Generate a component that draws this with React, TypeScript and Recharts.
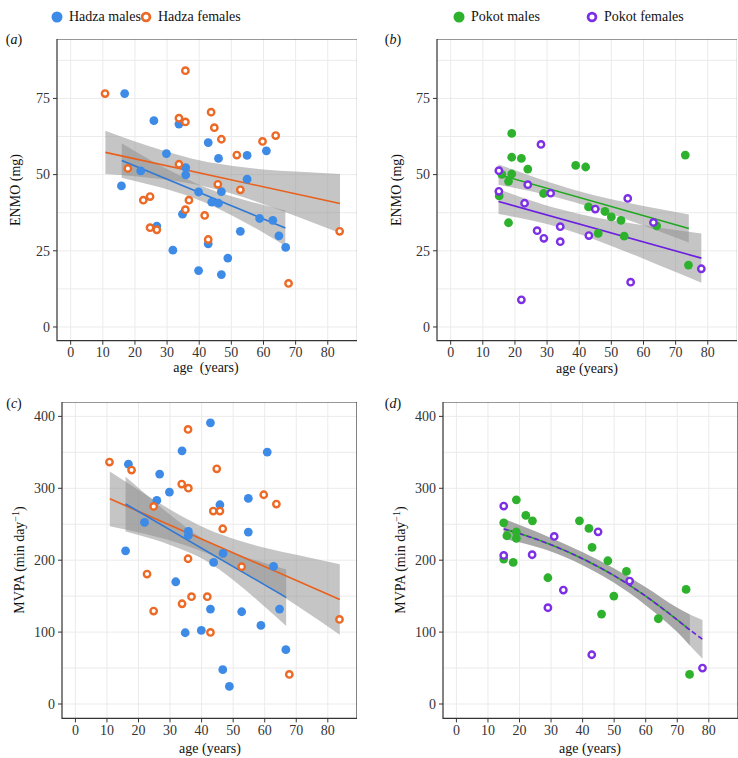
import React from 'react';
import { ComposedChart, Scatter, Line, Area, XAxis, YAxis, CartesianGrid, ReferenceArea } from 'recharts';

type Pt = [number, number];
type Band = [number, number, number];

// ---- panel (a): Hadza ENMO (age, mg)
const hadzaMalesEnmo: Pt[] = [
  [16.8, 76.6], [25.9, 67.7], [33.7, 66.6], [42.8, 60.5], [46.0, 55.3], [54.9, 56.3], [60.9, 57.8],
  [29.8, 56.9], [21.8, 51.2], [15.8, 46.3], [35.8, 52.3], [35.8, 49.9], [54.9, 48.5], [39.8, 44.3],
  [46.9, 44.4], [43.9, 41.0], [46.0, 40.6], [34.8, 37.0], [58.8, 35.6], [62.9, 35.0], [64.8, 29.9],
  [66.9, 26.1], [26.8, 33.1], [52.8, 31.4], [42.8, 27.3], [31.8, 25.2], [48.9, 22.6], [39.8, 18.5],
  [46.9, 17.2],
];
const hadzaFemalesEnmo: Pt[] = [
  [10.7, 76.6], [35.7, 84.1], [17.8, 52.0], [43.7, 70.5], [33.7, 68.5], [35.7, 67.3], [44.7, 65.4],
  [46.9, 61.6], [59.7, 60.9], [63.8, 62.8], [51.7, 56.4], [33.7, 53.4], [45.8, 46.8], [52.8, 45.0],
  [22.6, 41.6], [24.7, 42.8], [36.8, 41.6], [35.7, 38.5], [41.7, 36.6], [24.7, 32.6], [26.8, 31.9],
  [42.8, 28.7], [83.7, 31.4], [67.8, 14.3],
];
const hadzaMalesEnmoFit: Pt[] = [[15.9, 54.6], [66.8, 32.5]];
const hadzaMalesEnmoBand: Band[] = [
  [15.9, 49.0, 60.2], [20, 47.9, 57.7], [30, 45.2, 51.8], [41, 41.2, 46.2], [50, 36.7, 42.9], [60, 30.9, 40.0], [66.8, 26.6, 38.2],
];
const hadzaFemalesEnmoFit: Pt[] = [[10.8, 57.3], [83.8, 40.5]];
const hadzaFemalesEnmoBand: Band[] = [
  [10.8, 50.2, 64.4], [20, 49.5, 60.9], [30, 48.3, 57.5], [40, 46.5, 54.7], [50, 43.8, 52.9], [60, 40.3, 51.7], [70, 36.4, 51.0], [83.8, 30.8, 50.2],
];

// ---- panel (b): Pokot ENMO
const pokotMalesEnmo: Pt[] = [
  [19.0, 63.5], [19.0, 55.7], [22.0, 55.3], [24.0, 51.8], [38.9, 53.0], [42.0, 52.5], [73.0, 56.4],
  [15.9, 50.1], [19.0, 50.2], [18.0, 47.8], [15.1, 43.0], [28.9, 43.8], [18.0, 34.2], [42.9, 39.4],
  [48.0, 37.9], [50.0, 36.1], [53.0, 35.0], [45.9, 30.7], [54.0, 29.8], [64.1, 33.2], [74.0, 20.3],
];
const pokotFemalesEnmo: Pt[] = [
  [15.0, 51.3], [15.0, 44.5], [28.1, 59.9], [24.0, 46.7], [31.1, 43.9], [23.0, 40.6], [45.0, 38.7],
  [55.1, 42.2], [63.1, 34.3], [26.9, 31.6], [29.0, 29.1], [34.1, 32.9], [34.1, 28.0], [43.0, 30.0],
  [56.0, 14.7], [22.0, 8.9], [78.0, 19.1],
];
const pokotMalesEnmoFit: Pt[] = [[14.9, 50.0], [74.1, 32.3]];
const pokotMalesEnmoBand: Band[] = [
  [14.9, 46.7, 53.3], [20, 45.6, 51.4], [30, 43.3, 47.7], [38, 41.1, 45.1], [50, 37.1, 41.9], [60, 33.3, 39.7], [74.1, 27.7, 36.9],
];
const pokotFemalesEnmoFit: Pt[] = [[14.9, 41.2], [78.0, 22.6]];
const pokotFemalesEnmoBand: Band[] = [
  [14.9, 37.1, 45.3], [20, 36.1, 43.3], [32, 33.2, 39.2], [40, 30.5, 37.1], [50, 26.6, 35.0], [60, 22.4, 33.4], [70, 18.0, 31.8], [78, 14.5, 30.7],
];

// ---- panel (c): Hadza MVPA (min/day)
const hadzaMalesMvpa: Pt[] = [
  [42.8, 391.1], [16.8, 333.6], [33.8, 352.1], [60.8, 350.3], [26.7, 319.7], [29.8, 294.7], [25.8, 283.1],
  [45.8, 277.1], [54.8, 285.9], [21.9, 252.5], [35.8, 240.0], [35.8, 234.4], [54.8, 239.1], [15.9, 213.1],
  [46.8, 209.4], [43.8, 196.9], [62.8, 191.3], [31.8, 170.0], [42.8, 132.0], [52.7, 128.3], [64.7, 132.0],
  [58.8, 109.3], [34.8, 99.1], [39.9, 102.4], [66.7, 75.5], [46.7, 47.7], [48.8, 24.5],
];
const hadzaFemalesMvpa: Pt[] = [
  [10.8, 336.4], [17.8, 325.3], [35.7, 381.8], [44.8, 327.1], [33.7, 305.8], [35.8, 300.2], [24.8, 274.7],
  [59.7, 291.0], [63.7, 278.0], [43.7, 268.3], [45.8, 268.3], [46.7, 243.7], [35.7, 202.0], [52.7, 190.9],
  [22.7, 180.7], [36.8, 149.2], [41.8, 149.2], [33.8, 139.4], [24.8, 129.2], [42.8, 99.6], [67.8, 41.2],
  [83.7, 117.7],
];
const hadzaMalesMvpaFit: Pt[] = [[15.9, 278.2], [66.8, 148.3]];
const hadzaMalesMvpaBand: Band[] = [
  [15.9, 239.9, 315.9], [20, 234.9, 300.5], [30, 221.3, 263.1], [41, 200.1, 228.1], [50, 172.3, 210.1], [60, 135.4, 196.0], [66.8, 108.5, 187.1],
];
const hadzaFemalesMvpaFit: Pt[] = [[10.9, 285.4], [83.8, 145.4]];
const hadzaFemalesMvpaBand: Band[] = [
  [10.9, 247.3, 323.3], [20, 238.5, 297.5], [30, 227.4, 270.4], [42, 208.9, 242.9], [50, 191.5, 229.7], [60, 165.4, 217.4], [70, 137.2, 207.4], [83.8, 96.4, 194.4],
];

// ---- panel (d): Pokot MVPA (smooth curves)
const pokotMalesMvpa: Pt[] = [
  [19.0, 284.0], [15.0, 252.0], [22.0, 262.2], [24.1, 254.8], [39.0, 254.8], [42.0, 244.2], [16.0, 234.0],
  [19.0, 239.5], [19.0, 230.3], [43.0, 217.7], [15.0, 201.5], [18.0, 196.9], [48.0, 199.2], [53.9, 184.4],
  [29.0, 175.6], [49.9, 150.1], [46.0, 125.1], [64.0, 118.6], [72.8, 159.4], [73.9, 41.2],
];
const pokotFemalesMvpa: Pt[] = [
  [15.0, 275.2], [31.0, 233.0], [44.9, 239.5], [15.0, 206.6], [24.0, 207.6], [54.9, 170.9], [33.9, 158.4],
  [29.0, 133.9], [42.9, 68.5], [78.0, 50.0],
];
const pokotMalesMvpaFit: Pt[] = [[15, 243.5], [20, 237], [30, 221.5], [40, 202], [50, 178.5], [60, 150], [70, 117], [74, 103]];
const pokotMalesMvpaBand: Band[] = [
  [15, 229.5, 257.5], [20, 225, 249], [30, 212, 231], [40, 193, 211], [50, 168.5, 188.5], [60, 137.5, 162.5], [70, 100, 134], [74, 81.5, 124.5],
];
const pokotFemalesMvpaFit: Pt[] = [[15, 243.5], [20, 237], [30, 221.5], [40, 202], [50, 178.5], [60, 150], [70, 117], [74, 103], [78, 90]];
const pokotFemalesMvpaBand: Band[] = [
  [15, 229.5, 257.5], [20, 225, 249], [30, 212, 231], [40, 193, 211], [50, 168.5, 188.5], [60, 137.5, 162.5], [70, 100, 134], [74, 81.5, 124.5], [78, 63, 117],
];

const ageTicks = [0, 10, 20, 30, 40, 50, 60, 70, 80];
const enmoTicks = [0, 25, 50, 75];
const enmoGrid = [0, 12.5, 25, 37.5, 50, 62.5, 75, 87.5];
const mvpaTicks = [0, 100, 200, 300, 400];
const mvpaGrid = [0, 50, 100, 150, 200, 250, 300, 350, 400];

const C = {
  hadzaM: '#3D8BE6', hadzaMLine: '#2F78D4',
  hadzaF: '#EC6A26', hadzaFLine: '#E8601C',
  pokotM: '#2EB22E', pokotMLine: '#1FA81F',
  pokotF: '#7C2FE5', pokotFLine: '#6A1FE0',
};
const FONT = "'Liberation Serif', 'Times New Roman', serif";

interface Series { pts: Pt[]; color: string; ring: boolean }
interface Fit { line: Pt[]; band: Band[]; color: string; dashed?: boolean; curve?: boolean }

const toXY = (pts: Pt[]) => pts.map(([x, y]) => ({ x, y }));
const toBand = (b: Band[]) => b.map(([x, lo, hi]) => ({ x, band: [lo, hi] }));

const dotShape = (color: string, ring: boolean) => (p: any) =>
  ring
    ? <circle cx={p.cx} cy={p.cy} r={3.2} fill="#fff" stroke={color} strokeWidth={2.4} />
    : <circle cx={p.cx} cy={p.cy} r={4.4} fill={color} />;

// serif tick labels drawn by hand so the font sticks
const XTick = (p: any) => (
  <text x={p.x} y={p.y} dy="0.75em" textAnchor="middle" fontSize={14} fill="#333" style={{ fontFamily: FONT }}>{p.payload.value}</text>
);
const YTick = (p: any) => (
  <text x={p.x} y={p.y} dy="0.34em" textAnchor="end" fontSize={14} fill="#333" style={{ fontFamily: FONT }}>{p.payload.value}</text>
);

interface PanelProps {
  left: number; top: number; width: number; height: number; yw: number;
  yDomain: [number, number]; yTicks: number[]; yGrid: number[];
  series: Series[]; fits: Fit[];
}

const xDomain: [number, number] = [-4.25, 89.25];

const Panel = ({ left, top, width, height, yw, yDomain, yTicks, yGrid, series, fits }: PanelProps) => (
  <div style={{ position: 'absolute', left: left - yw, top }}>
    <ComposedChart width={width + yw} height={height + 26} margin={{ top: 0, right: 0, bottom: 0, left: 0 }}>
      <CartesianGrid stroke="#EBEBEB" strokeWidth={1} horizontalValues={yGrid} verticalValues={ageTicks} />
      <XAxis dataKey="x" type="number" domain={xDomain} ticks={ageTicks} allowDataOverflow
        height={26} tickSize={4} tickMargin={2} axisLine={false} tickLine={{ stroke: '#333' }} tick={XTick} />
      <YAxis type="number" domain={yDomain} ticks={yTicks} allowDataOverflow
        width={yw} tickSize={4} tickMargin={3} axisLine={false} tickLine={{ stroke: '#333' }} tick={YTick} />
      {fits.map((f, i) => (
        <Area key={'b' + i} data={toBand(f.band)} dataKey="band" type="monotone" stroke="none"
          fill="#8C8C8C" fillOpacity={0.5} isAnimationActive={false} />
      ))}
      {fits.map((f, i) => (
        <Line key={'l' + i} data={toXY(f.line)} dataKey="y" type={f.curve ? 'monotone' : 'linear'} stroke={f.color}
          strokeWidth={1.6} strokeDasharray={f.dashed ? '5 3' : undefined} dot={false} isAnimationActive={false} />
      ))}
      {series.map((s, i) => (
        <Scatter key={'s' + i} data={toXY(s.pts)} dataKey="y" shape={dotShape(s.color, s.ring)} isAnimationActive={false} />
      ))}
      <ReferenceArea x1={xDomain[0]} x2={xDomain[1]} y1={yDomain[0]} y2={yDomain[1]} fill="none" stroke="#333" strokeWidth={1.2} ifOverflow="visible" />
    </ComposedChart>
  </div>
);

const txt: React.CSSProperties = { position: 'absolute', fontSize: 14, color: '#111', whiteSpace: 'nowrap', lineHeight: '16px' };

const LegendItem = ({ x, color, ring, label }: { x: number; color: string; ring: boolean; label: string }) => (
  <div style={{ position: 'absolute', left: x - 6, top: 9, display: 'flex', alignItems: 'center' }}>
    <svg width={12} height={12}>
      {ring
        ? <circle cx={6} cy={6} r={3.9} fill="#fff" stroke={color} strokeWidth={2.8} />
        : <circle cx={6} cy={6} r={5.5} fill={color} />}
    </svg>
    <span style={{ marginLeft: 6, fontSize: 14, color: '#111' }}>{label}</span>
  </div>
);

const YTitle = ({ x, y, children }: { x: number; y: number; children: React.ReactNode }) => (
  <div style={{ ...txt, left: x, top: y, transform: 'translate(-50%, -50%) rotate(-90deg)' }}>{children}</div>
);
const XTitle = ({ x, y, children }: { x: number; y: number; children: React.ReactNode }) => (
  <div style={{ ...txt, left: x, top: y, transform: 'translate(-50%, -50%)' }}>{children}</div>
);
const Tag = ({ x, y, l }: { x: number; y: number; l: string }) => (
  <div style={{ ...txt, left: x, top: y, transform: 'translate(-50%, -50%)' }}>(<i>{l}</i>)</div>
);

export default function App() {
  return (
    <div style={{ position: 'absolute', left: 0, top: 0, width: 738, height: 758, background: '#fff', fontFamily: FONT, overflow: 'hidden' }}>
      <LegendItem x={57} color={C.hadzaM} ring={false} label="Hadza males" />
      <LegendItem x={146} color={C.hadzaF} ring label="Hadza females" />
      <LegendItem x={459} color={C.pokotM} ring={false} label="Pokot males" />
      <LegendItem x={592} color={C.pokotF} ring label="Pokot females" />

      <Panel left={56.5} top={39.4} width={300.5} height={301.7} yw={40} yDomain={[-4.5, 94.5]} yTicks={enmoTicks} yGrid={enmoGrid}
        fits={[
          { line: hadzaFemalesEnmoFit, band: hadzaFemalesEnmoBand, color: C.hadzaFLine },
          { line: hadzaMalesEnmoFit, band: hadzaMalesEnmoBand, color: C.hadzaMLine },
        ]}
        series={[
          { pts: hadzaMalesEnmo, color: C.hadzaM, ring: false },
          { pts: hadzaFemalesEnmo, color: C.hadzaF, ring: true },
        ]} />
      <Panel left={436.8} top={39.4} width={300.5} height={301.7} yw={40} yDomain={[-4.5, 94.5]} yTicks={enmoTicks} yGrid={enmoGrid}
        fits={[
          { line: pokotMalesEnmoFit, band: pokotMalesEnmoBand, color: C.pokotMLine },
          { line: pokotFemalesEnmoFit, band: pokotFemalesEnmoBand, color: C.pokotFLine },
        ]}
        series={[
          { pts: pokotMalesEnmo, color: C.pokotM, ring: false },
          { pts: pokotFemalesEnmo, color: C.pokotF, ring: true },
        ]} />
      <Panel left={62} top={402.3} width={295} height={316.4} yw={46} yDomain={[-20, 420]} yTicks={mvpaTicks} yGrid={mvpaGrid}
        fits={[
          { line: hadzaFemalesMvpaFit, band: hadzaFemalesMvpaBand, color: C.hadzaFLine },
          { line: hadzaMalesMvpaFit, band: hadzaMalesMvpaBand, color: C.hadzaMLine },
        ]}
        series={[
          { pts: hadzaMalesMvpa, color: C.hadzaM, ring: false },
          { pts: hadzaFemalesMvpa, color: C.hadzaF, ring: true },
        ]} />
      <Panel left={442.7} top={402.3} width={295} height={316.4} yw={46} yDomain={[-20, 420]} yTicks={mvpaTicks} yGrid={mvpaGrid}
        fits={[
          { line: pokotMalesMvpaFit, band: pokotMalesMvpaBand, color: C.pokotMLine, curve: true },
          { line: pokotFemalesMvpaFit, band: pokotFemalesMvpaBand, color: C.pokotFLine, curve: true, dashed: true },
        ]}
        series={[
          { pts: pokotMalesMvpa, color: C.pokotM, ring: false },
          { pts: pokotFemalesMvpa, color: C.pokotF, ring: true },
        ]} />

      <Tag x={14} y={40} l="a" />
      <Tag x={393} y={40} l="b" />
      <Tag x={14} y={404} l="c" />
      <Tag x={393} y={404} l="d" />

      <YTitle x={16} y={190}>ENMO (mg)</YTitle>
      <YTitle x={397} y={190}>ENMO (mg)</YTitle>
      <YTitle x={18} y={560}>MVPA (min day<sup style={{ fontSize: 10 }}>−1</sup>)</YTitle>
      <YTitle x={399} y={560}>MVPA (min day<sup style={{ fontSize: 10 }}>−1</sup>)</YTitle>

      <XTitle x={206} y={368}>age{'\u00a0'} (years)</XTitle>
      <XTitle x={587} y={369}>age (years)</XTitle>
      <XTitle x={210} y={749}>age (years)</XTitle>
      <XTitle x={590} y={749}>age (years)</XTitle>
    </div>
  );
}
